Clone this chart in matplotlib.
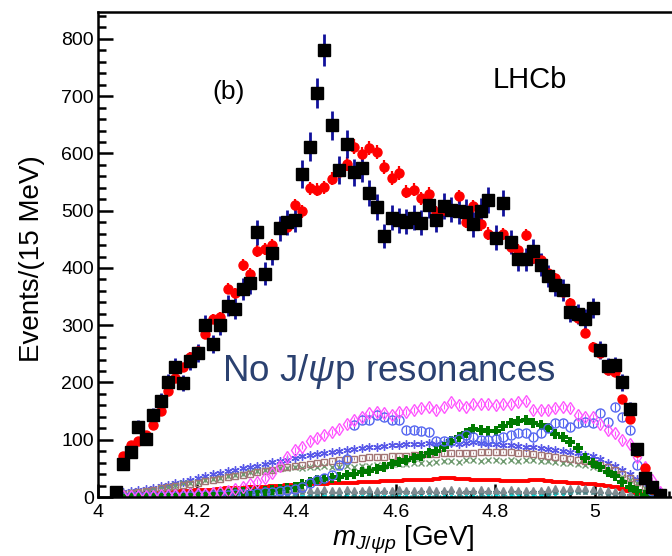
import numpy as np
import matplotlib
matplotlib.use("Agg")
from matplotlib import pyplot as plt
from matplotlib.ticker import MultipleLocator

plt.rcParams['font.family'] = ['Liberation Sans', 'DejaVu Sans']
plt.rcParams['mathtext.fontset'] = 'custom'
plt.rcParams['mathtext.rm'] = 'Liberation Sans'
plt.rcParams['mathtext.it'] = 'Liberation Sans:italic'
plt.rcParams['mathtext.bf'] = 'Liberation Sans:bold'

# 15 MeV bins from the J/psi p threshold
n_bins = 74
bin_centers = 4.036 + 0.015 * np.arange(n_bins)

# data (black squares)
data_counts = [8, 57, 79, 123, 102, 143, 168, 201, 227, 199,
               238, 252, 300, 267, 300, 334, 329, 363, 374, 462,
               390, 426, 469, 480, 484, 564, 612, 706, 780, 649,
               571, 616, 567, 574, 531, 507, 456, 488, 483, 481,
               488, 479, 510, 484, 508, 502, 499, 498, 476, 499,
               519, 453, 513, 446, 415, 415, 429, 406, 386, 370,
               362, 323, 320, 311, 330, 257, 228, 230, 200, 153,
               83, 34, 18, 3]

# fit without J/psi p resonances (red circles)
fit_counts = [6, 71, 91, 97, 108, 126, 151, 185, 207, 227,
              245, 255, 284, 311, 315, 364, 356, 405, 390, 430,
              433, 440, 471, 471, 510, 499, 539, 537, 541, 556,
              567, 581, 612, 599, 610, 602, 576, 557, 566, 533,
              537, 522, 530, 497, 501, 503, 525, 480, 508, 476,
              460, 452, 459, 437, 432, 457, 417, 414, 391, 382,
              358, 339, 312, 287, 262, 252, 222, 219, 172, 137,
              78, 50, 14, 2]

# fit components
comp_diamond = [1, 1, 1, 2, 2, 2, 3, 3, 4, 4,
                5, 5, 6, 7, 9, 11, 14, 17, 22, 27,
                33, 42, 55, 70, 82, 88, 98, 103, 108, 113,
                119, 127, 135, 140, 146, 149, 147, 144, 149, 149,
                152, 155, 158, 152, 158, 166, 161, 158, 163, 162,
                162, 160, 163, 163, 166, 168, 152, 152, 152, 155,
                158, 155, 143, 140, 140, 128, 117, 111, 99, 92,
                70, 53, 30, 8]

comp_circle = [0, 0, 1, 1, 1, 1, 1, 2, 2, 2,
               2, 3, 3, 3, 4, 4, 5, 5, 6, 7,
               8, 9, 10, 12, 14, 18, 24, 30, 33, 38,
               56, 66, 126, 134, 134, 143, 140, 134, 134, 117,
               117, 116, 114, 97, 97, 97, 102, 108, 105, 100,
               100, 101, 105, 108, 111, 111, 105, 111, 120, 129,
               129, 123, 129, 131, 129, 146, 131, 158, 140, 117,
               56, 35, 10, 2]

comp_star = [7, 9, 11, 12, 14, 16, 19, 21, 24, 27,
             30, 33, 36, 40, 42, 45, 48, 50, 53, 55,
             58, 61, 63, 65, 68, 71, 73, 75, 77, 78,
             80, 82, 83, 85, 87, 88, 89, 90, 91, 92,
             93, 92, 94, 93, 94, 95, 93, 94, 96, 94,
             93, 92, 91, 90, 89, 88, 87, 85, 83, 82,
             80, 78, 76, 74, 71, 66, 60, 54, 47, 40,
             32, 25, 17, 8]

comp_square = [3, 5, 7, 9, 11, 13, 15, 17, 19, 21,
               23, 25, 28, 30, 32, 35, 37, 39, 41, 43,
               45, 47, 50, 52, 54, 56, 58, 60, 61, 63,
               64, 66, 67, 68, 69, 69, 70, 71, 72, 72,
               73, 74, 75, 75, 76, 76, 77, 77, 77, 78,
               78, 79, 79, 78, 77, 76, 75, 74, 72, 70,
               68, 66, 64, 62, 59, 56, 53, 48, 41, 34,
               27, 18, 9, 3]

comp_cross = [3, 5, 7, 9, 11, 13, 16, 18, 21, 24,
              25, 27, 29, 31, 33, 36, 38, 40, 43, 45,
              47, 48, 50, 51, 52, 51, 53, 52, 54, 53,
              52, 54, 53, 55, 54, 56, 55, 57, 58, 57,
              59, 60, 59, 61, 62, 63, 61, 64, 65, 63,
              64, 65, 63, 64, 62, 65, 64, 63, 62, 61,
              60, 59, 57, 56, 53, 50, 46, 41, 35, 30,
              24, 16, 8, 2]

comp_plus = [0, 0, 0, 1, 1, 1, 1, 2, 2, 2,
             3, 3, 4, 4, 5, 6, 7, 8, 9, 10,
             11, 12, 14, 16, 18, 22, 26, 30, 32, 33,
             35, 38, 41, 44, 46, 49, 53, 57, 61, 65,
             68, 72, 76, 81, 88, 97, 104, 111, 118, 117,
             115, 116, 124, 129, 132, 134, 130, 126, 120, 110,
             104, 96, 85, 68, 60, 52, 44, 36, 27, 18,
             11, 4, 1, 0]

comp_line = [2, 3, 3, 4, 5, 6, 7, 8, 9, 10,
             11, 12, 12, 13, 14, 15, 16, 16, 17, 18,
             18, 19, 20, 21, 21, 22, 22, 23, 23, 24,
             24, 25, 25, 26, 27, 27, 28, 28, 28, 29,
             29, 30, 30, 31, 33, 33, 32, 31, 30, 30,
             29, 29, 28, 28, 28, 28, 29, 29, 28, 27,
             26, 25, 24, 23, 22, 21, 19, 17, 14, 11,
             7, 4, 2, 1]

comp_triangle = [6, 8, 9, 9, 10, 11, 10, 11, 12, 11,
                 12, 12, 11, 13, 12, 12, 13, 12, 13, 12,
                 13, 14, 13, 12, 13, 14, 13, 13, 14, 13,
                 12, 14, 13, 13, 14, 13, 12, 13, 14, 13,
                 13, 12, 14, 13, 13, 14, 13, 12, 13, 14,
                 13, 13, 12, 14, 13, 13, 12, 13, 14, 15,
                 14, 15, 16, 15, 14, 13, 12, 10, 8, 6,
                 4, 3, 1, 0]

comp_teal = [3, 4, 4, 5, 5, 5, 6, 6, 6, 6,
             6, 7, 6, 7, 7, 6, 7, 7, 6, 7,
             7, 7, 8, 7, 7, 8, 7, 7, 8, 7,
             7, 8, 7, 8, 7, 7, 8, 7, 8, 8,
             7, 8, 8, 7, 8, 8, 7, 8, 8, 7,
             8, 8, 7, 8, 8, 7, 8, 8, 7, 8,
             8, 9, 9, 8, 8, 7, 6, 5, 4, 3,
             2, 1, 1, 0]

comp_cyan = [0, 0, 1, 1, 1, 1, 1, 1, 1, 1,
             1, 1, 1, 1, 1, 2, 2, 2, 2, 2,
             2, 2, 2, 2, 2, 2, 2, 2, 2, 2,
             2, 2, 2, 2, 2, 2, 2, 2, 2, 2,
             2, 2, 2, 2, 2, 2, 2, 2, 2, 2,
             3, 3, 3, 3, 3, 3, 3, 3, 4, 5,
             6, 7, 8, 9, 9, 8, 7, 5, 3, 2,
             1, 0, 0, 0]

fig = plt.figure(figsize=(6.72, 5.56), dpi=100)
ax = fig.add_axes([98 / 672, 59 / 556, 596 / 672, 485 / 556])

# components
ax.errorbar(bin_centers, comp_cyan, fmt='.', color='#00dede', ms=3, ls=':', lw=1)
ax.errorbar(bin_centers, comp_teal, yerr=2, fmt='*', color='#4d7d80', ms=4, elinewidth=0.7)
ax.errorbar(bin_centers, comp_triangle, yerr=3, fmt='^', color='#7f8a90', ms=4, elinewidth=0.8)
ax.errorbar(bin_centers, comp_cross, yerr=2, fmt='x', color='#6f9a6f', ms=4, mew=1, elinewidth=0.6)
ax.errorbar(bin_centers, comp_square, yerr=2, fmt='s', mfc='none', mec='#a27575',
            ecolor='#a27575', ms=4.5, mew=1, elinewidth=0.6)
ax.errorbar(bin_centers, comp_star, yerr=3, fmt='none', ecolor='#5858e8', elinewidth=0.6)
ax.plot(bin_centers, comp_star, ls='none', marker=(6, 2, 0), color='#5858e8', ms=6, mew=1)
ax.errorbar(bin_centers, comp_plus, yerr=3, fmt='P', color='#007a00', ms=6.5, mew=0, elinewidth=1)
ax.errorbar(bin_centers, comp_circle, yerr=7, fmt='o', mfc='none', mec='#5566f0',
            ecolor='#5566f0', ms=6.5, mew=1, elinewidth=0.8)
ax.errorbar(bin_centers, comp_diamond, yerr=5, fmt='d', mfc='none', mec='#ff55ff',
            ecolor='#ff55ff', ms=6, mew=1, elinewidth=0.8)
ax.step(bin_centers, comp_line, where='mid', color='red', lw=2.8)

# fit and data
fit_err = 0.5 * np.sqrt(fit_counts)
ax.errorbar(bin_centers, fit_counts, yerr=fit_err, fmt='o', color='red', ms=6.5, elinewidth=1.6)
data_err = np.sqrt(data_counts)
ax.errorbar(bin_centers, data_counts, yerr=data_err, fmt='s', mfc='black', mec='black',
            ecolor='#10109a', ms=8, elinewidth=2)

ax.set_xlim(4, 5.2)
ax.set_ylim(0, 847)
ax.xaxis.set_major_locator(MultipleLocator(0.2))
ax.xaxis.set_minor_locator(MultipleLocator(0.05))
ax.yaxis.set_major_locator(MultipleLocator(100))
ax.yaxis.set_minor_locator(MultipleLocator(20))
ax.set_xticks([4, 4.2, 4.4, 4.6, 4.8, 5])
ax.set_xticklabels(['4', '4.2', '4.4', '4.6', '4.8', '5'])
ax.tick_params(axis='both', which='both', direction='in', top=False, right=False,
               width=1.8, labelsize=14)
ax.tick_params(axis='y', which='major', length=10.8, pad=3)
ax.tick_params(axis='y', which='minor', length=5.8)
ax.tick_params(axis='x', which='major', length=9.4, pad=5)
ax.tick_params(axis='x', which='minor', length=4.3)
for side in ['left', 'bottom', 'top', 'right']:
    ax.spines[side].set_linewidth(1.8)

fig.text(32 / 672, 1 - 259 / 556, 'Events/(15 MeV)', rotation=90, fontsize=20,
         ha='center', va='center')
fig.text(403 / 672, 1 - 546 / 556, r'$m_{J/\psi p}$ [GeV]', fontsize=20,
         ha='center', va='baseline')

ax.text(4.262, 707, '(b)', fontsize=19, ha='center', va='center')
ax.text(4.795, 728, 'LHCb', fontsize=21, ha='left', va='center')
ax.text(4.25, 203, r'No J/$\psi$p resonances', fontsize=26.5, color='#2b4170',
        ha='left', va='baseline')

fig.savefig('out.png', dpi=100)
